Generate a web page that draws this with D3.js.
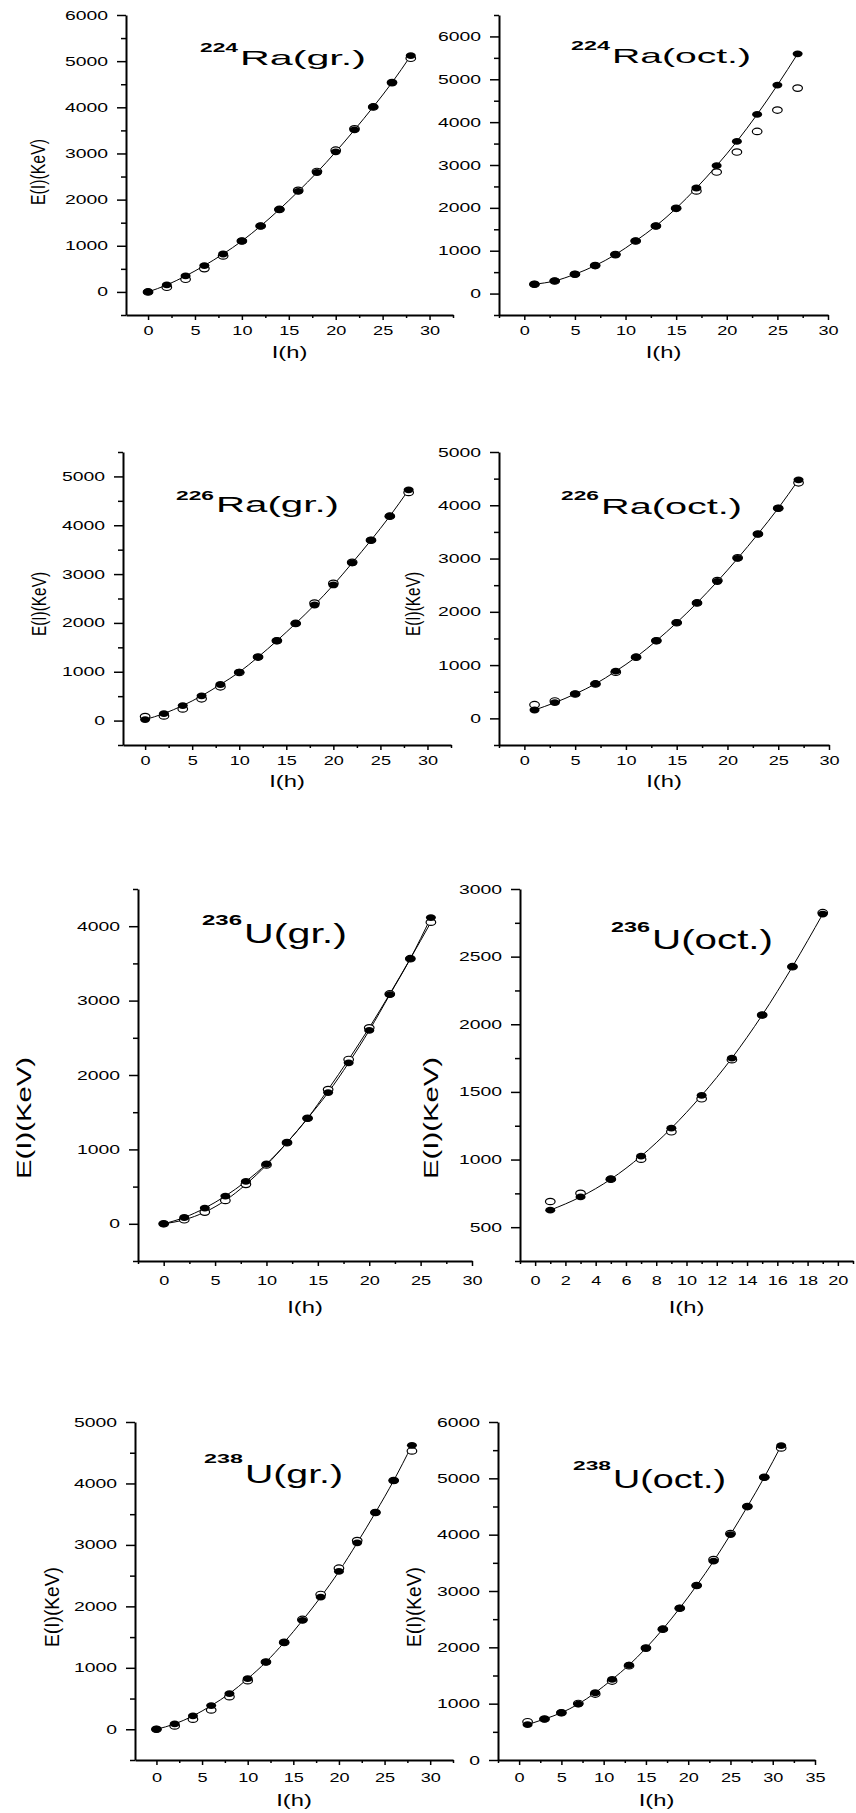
<!DOCTYPE html>
<html>
<head>
<meta charset="utf-8">
<script src="https://cdn.jsdelivr.net/npm/d3@7"></script>
<style>
  body { margin: 0; background: #fff; }
  svg { display: block; }
  text { font-family: "Liberation Sans", Arial, sans-serif; fill: #000; }
</style>
</head>
<body>
<script>
// spin values and energies E(I) in keV
// filled = filled circles (line goes through them), open = open circles

const ra224grI = [0, 2, 4, 6, 8, 10, 12, 14, 16, 18, 20, 22, 24, 26, 28];
const ra224grFilled = [0, 151, 346, 570, 822, 1103, 1428, 1788, 2177, 2588, 3035, 3511, 4009, 4535, 5119];
const ra224grOpen = [0, 100, 274, 505, 779, 1103, 1428, 1788, 2200, 2610, 3072, 3533, 4009, 4535, 5062];

const ra224octI = [1, 3, 5, 7, 9, 11, 13, 15, 17, 19, 21, 23, 25, 27];
const ra224octFilled = [218, 295, 451, 653, 909, 1228, 1577, 1989, 2463, 2984, 3551, 4180, 4864, 5594];
const ra224octOpen = [218, 295, 451, 653, 909, 1228, 1577, 1989, 2393, 2836, 3302, 3784, 4281, 4794];

const ra226grI = [0, 2, 4, 6, 8, 10, 12, 14, 16, 18, 20, 22, 24, 26, 28];
const ra226grFilled = [20, 144, 308, 506, 739, 992, 1300, 1635, 1990, 2367, 2777, 3228, 3694, 4186, 4726];
const ra226grOpen = [82, 96, 239, 445, 691, 985, 1300, 1635, 1990, 2408, 2811, 3240, 3694, 4186, 4672];

const ra226octI = [1, 3, 5, 7, 9, 11, 13, 15, 17, 19, 21, 23, 25, 27];
const ra226octFilled = [157, 295, 458, 647, 885, 1149, 1457, 1796, 2167, 2569, 3002, 3460, 3944, 4478];
const ra226octOpen = [257, 327, 458, 647, 867, 1149, 1457, 1796, 2167, 2587, 3015, 3460, 3944, 4421];

const u236grI = [0, 2, 4, 6, 8, 10, 12, 14, 16, 18, 20, 22, 24, 26];
const u236grFilled = [0, 85, 211, 373, 570, 804, 1091, 1418, 1764, 2164, 2599, 3080, 3564, 4116];
const u236grOpen = [0, 54, 157, 314, 530, 790, 1091, 1418, 1805, 2209, 2635, 3090, 3564, 4053];

const u236octI = [1, 3, 5, 7, 9, 11, 13, 15, 17, 19];
const u236octFilled = [626, 724, 855, 1025, 1232, 1474, 1750, 2068, 2426, 2815];
const u236octOpen = [690, 751, 855, 1003, 1205, 1449, 1738, 2068, 2426, 2825];

const u238grI = [0, 2, 4, 6, 8, 10, 12, 14, 16, 18, 20, 22, 24, 26, 28];
const u238grFilled = [0, 87, 217, 385, 580, 823, 1094, 1414, 1771, 2151, 2568, 3034, 3527, 4047, 4621];
const u238grOpen = [0, 54, 163, 314, 531, 791, 1094, 1414, 1788, 2194, 2622, 3071, 3527, 4047, 4529];

const u238octI = [1, 3, 5, 7, 9, 11, 13, 15, 17, 19, 21, 23, 25, 27, 29, 31];
const u238octFilled = [627, 727, 839, 993, 1194, 1430, 1685, 1986, 2323, 2695, 3097, 3529, 4002, 4498, 5018, 5580];
const u238octOpen = [680, 727, 839, 1004, 1170, 1401, 1675, 1986, 2323, 2695, 3097, 3558, 4020, 4498, 5018, 5539];

// panel layout (pixel boxes of the axes) - the original figure is stretched sideways,
// so all text gets a horizontal scale
const panels = [
  {mass: "224", el: "Ra", state: "(gr.)", I: ra224grI, filled: ra224grFilled, open: ra224grOpen,
   left: 126, right: 453, top: 15, bottom: 315, xd: [-2.35, 32.5], yd: [-500, 6000], xStep: 5, yStep: 1000,
   title: {x: 200, supY: 52, supW: 38, supF: 13, y: 65, w: 126, f: 21},
   ylab: {x: 38, y: 172, len: 66, f: 20}, xlabDy: 43, xtickDy: 20},
  {mass: "224", el: "Ra", state: "(oct.)", I: ra224octI, filled: ra224octFilled, open: ra224octOpen,
   left: 499, right: 828, top: 15, bottom: 315, xd: [-2.5, 30], yd: [-500, 6500], xStep: 5, yStep: 1000,
   title: {x: 571, supY: 50, supW: 39, supF: 13, y: 63, w: 139, f: 21},
   ylab: null, xlabDy: 43, xtickDy: 20},
  {mass: "226", el: "Ra", state: "(gr.)", I: ra226grI, filled: ra226grFilled, open: ra226grOpen,
   left: 123, right: 451, top: 452, bottom: 745, xd: [-2.35, 32.5], yd: [-500, 5500], xStep: 5, yStep: 1000,
   title: {x: 176, supY: 500, supW: 38, supF: 13, y: 512, w: 123, f: 22},
   ylab: {x: 38, y: 604, len: 64, f: 21}, xlabDy: 42, xtickDy: 20},
  {mass: "226", el: "Ra", state: "(oct.)", I: ra226octI, filled: ra226octFilled, open: ra226octOpen,
   left: 499, right: 829, top: 452, bottom: 745, xd: [-2.5, 30], yd: [-500, 5000], xStep: 5, yStep: 1000,
   title: {x: 561, supY: 500, supW: 38, supF: 13, y: 514, w: 141, f: 22},
   ylab: {x: 412, y: 604, len: 64, f: 21}, xlabDy: 42, xtickDy: 20},
  {mass: "236", el: "U", state: "(gr.)", I: u236grI, filled: u236grFilled, open: u236grOpen, openLine: true,
   left: 138, right: 472, top: 889, bottom: 1261, xd: [-2.5, 30], yd: [-500, 4500], xStep: 5, yStep: 1000,
   title: {x: 202, supY: 925, supW: 40, supF: 14, y: 943, w: 103, f: 28},
   ylab: {x: 24, y: 1118, len: 122, f: 20}, xlabDy: 52, xtickDy: 24},
  {mass: "236", el: "U", state: "(oct.)", I: u236octI, filled: u236octFilled, open: u236octOpen,
   left: 520, right: 853, top: 889, bottom: 1261, xd: [-1, 21], yd: [250, 3000], xStep: 2, yStep: 500,
   title: {x: 611, supY: 932, supW: 39, supF: 14, y: 949, w: 121, f: 28},
   ylab: {x: 431, y: 1118, len: 122, f: 20}, xlabDy: 52, xtickDy: 24},
  {mass: "238", el: "U", state: "(gr.)", I: u238grI, filled: u238grFilled, open: u238grOpen,
   left: 135, right: 453, top: 1422, bottom: 1760, xd: [-2.35, 32.5], yd: [-500, 5000], xStep: 5, yStep: 1000,
   title: {x: 204, supY: 1463, supW: 39, supF: 13, y: 1483, w: 98, f: 25},
   ylab: {x: 51, y: 1607, len: 80, f: 21}, xlabDy: 46, xtickDy: 22},
  {mass: "238", el: "U", state: "(oct.)", I: u238octI, filled: u238octFilled, open: u238octOpen,
   left: 498, right: 815, top: 1422, bottom: 1760, xd: [-2.5, 35], yd: [0, 6000], xStep: 5, yStep: 1000,
   title: {x: 573, supY: 1470, supW: 38, supF: 13, y: 1488, w: 113, f: 25},
   ylab: {x: 413, y: 1607, len: 80, f: 21}, xlabDy: 46, xtickDy: 22}
];

const width = 856, height = 1813;
const tickFont = 12.5;
const ySx = 1.55, xSx = 1.45;

const svg = d3.select("body").append("svg")
  .attr("width", width)
  .attr("height", height);

// ticks at every multiple of step inside the domain
function ticksIn(d, step, offset) {
  const out = [];
  const start = Math.ceil((d[0] - offset) / step - 1e-9);
  for (let k = start; k * step + offset <= d[1] + 1e-9; k++) out.push(+(k * step + offset).toFixed(4));
  return out;
}

panels.forEach(p => {
  const x = d3.scaleLinear().domain(p.xd).range([p.left, p.right]);
  const y = d3.scaleLinear().domain(p.yd).range([p.bottom, p.top]);
  const g = svg.append("g");

  const yMinor = ticksIn(p.yd, p.yStep, p.yStep / 2);
  const xMinor = ticksIn(p.xd, p.xStep, p.xStep / 2);
  const yMajor = ticksIn(p.yd, p.yStep, 0);
  const xMajor = ticksIn(p.xd, p.xStep, 0);

  // minor ticks first
  g.append("g").attr("transform", `translate(${p.left},0)`)
    .call(d3.axisLeft(y).tickValues(yMinor).tickSize(5).tickSizeOuter(0).tickFormat(""))
    .call(a => a.select(".domain").remove())
    .selectAll("line").attr("stroke-width", 1.5);
  g.append("g").attr("transform", `translate(0,${p.bottom})`)
    .call(d3.axisBottom(x).tickValues(xMinor).tickSize(3).tickSizeOuter(0).tickFormat(""))
    .call(a => a.select(".domain").remove())
    .selectAll("line").attr("stroke-width", 1.5);

  const yAx = g.append("g").attr("transform", `translate(${p.left},0)`)
    .call(d3.axisLeft(y).tickValues(yMajor).tickSize(9).tickPadding(9).tickSizeOuter(0).tickFormat(d3.format("d")));
  yAx.select(".domain").attr("stroke-width", 2);
  yAx.selectAll("line").attr("stroke-width", 1.5);
  yAx.selectAll("text")
    .attr("font-size", tickFont)
    .attr("font-family", "Liberation Sans, Arial, sans-serif")
    .attr("x", -18 / ySx)
    .attr("transform", `scale(${ySx},1)`);

  const xAx = g.append("g").attr("transform", `translate(0,${p.bottom})`)
    .call(d3.axisBottom(x).tickValues(xMajor).tickSize(5).tickPadding(6).tickSizeOuter(0).tickFormat(d3.format("d")));
  xAx.select(".domain").attr("stroke-width", 2);
  xAx.selectAll("line").attr("stroke-width", 1.5);
  xAx.selectAll("text")
    .attr("font-size", tickFont)
    .attr("font-family", "Liberation Sans, Arial, sans-serif")
    .attr("y", p.xtickDy).attr("dy", 0)
    .attr("transform", `scale(${xSx},1)`);

  // axis titles
  g.append("text")
    .attr("text-anchor", "middle")
    .attr("font-size", 17)
    .attr("transform", `translate(${(p.left + p.right) / 2},${p.bottom + p.xlabDy}) scale(1.4,1)`)
    .text("I(h)");

  if (p.ylab) {
    g.append("text")
      .attr("text-anchor", "middle")
      .attr("dominant-baseline", "central")
      .attr("font-size", p.ylab.f)
      .attr("textLength", p.ylab.len)
      .attr("lengthAdjust", "spacingAndGlyphs")
      .attr("transform", `translate(${p.ylab.x},${p.ylab.y}) rotate(-90)`)
      .text("E(I)(KeV)");
  }

  // lines through the points
  const line = d3.line().x(d => x(d[0])).y(d => y(d[1])).curve(d3.curveMonotoneX);
  if (p.openLine) {
    g.append("path").datum(p.I.map((v, i) => [v, p.open[i]]))
      .attr("d", line).attr("fill", "none").attr("stroke", "#000").attr("stroke-width", 1);
  }
  g.append("path").datum(p.I.map((v, i) => [v, p.filled[i]]))
    .attr("d", line).attr("fill", "none").attr("stroke", "#000").attr("stroke-width", 1);

  // open circles, then filled circles on top
  g.selectAll(".open").data(p.I.map((v, i) => [v, p.open[i]])).join("ellipse")
    .attr("cx", d => x(d[0])).attr("cy", d => y(d[1]))
    .attr("rx", 4.8).attr("ry", 3.2)
    .attr("fill", "#fff").attr("stroke", "#000").attr("stroke-width", 1.2);
  g.selectAll(".filled").data(p.I.map((v, i) => [v, p.filled[i]])).join("ellipse")
    .attr("cx", d => x(d[0])).attr("cy", d => y(d[1]))
    .attr("rx", 5).attr("ry", 3.4)
    .attr("fill", "#000");

  // panel title, e.g. 224Ra(gr.)
  g.append("text")
    .attr("x", p.title.x).attr("y", p.title.supY)
    .attr("font-size", p.title.supF).attr("font-weight", "bold")
    .attr("textLength", p.title.supW).attr("lengthAdjust", "spacingAndGlyphs")
    .text(p.mass);
  g.append("text")
    .attr("x", p.title.x + p.title.supW + 2).attr("y", p.title.y)
    .attr("font-size", p.title.f)
    .attr("textLength", p.title.w).attr("lengthAdjust", "spacingAndGlyphs")
    .text(p.el + p.state);
});
</script>
</body>
</html>
